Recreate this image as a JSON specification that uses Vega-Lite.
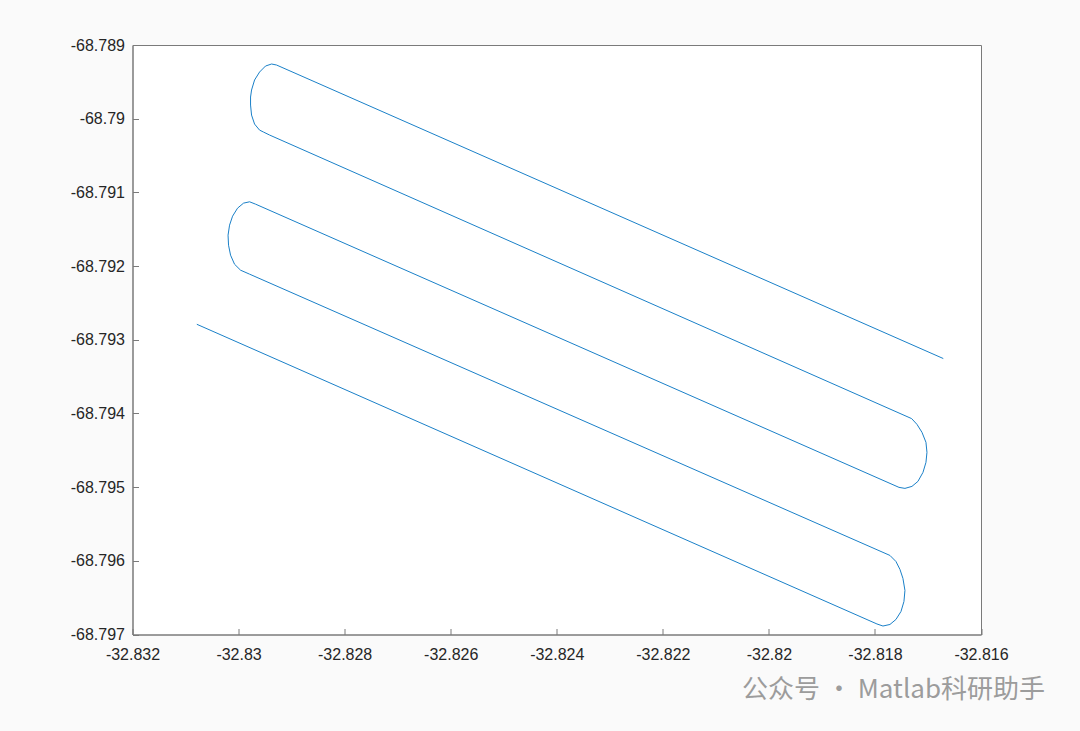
{
  "$schema": "https://vega.github.io/schema/vega-lite/v6.json",
  "width": 848.5,
  "height": 589.5,
  "autosize": {"type": "none"},
  "padding": {"left": 132.5, "top": 45, "right": 99, "bottom": 96.5},
  "background": "#fafafa",
  "view": {"fill": "white", "stroke": "#7a7a7a", "strokeWidth": 1},
  "title": {
    "text": "公众号 · Matlab科研助手",
    "orient": "bottom",
    "anchor": "end",
    "frame": "group",
    "dx": 64,
    "offset": 14,
    "font": "Noto Sans CJK SC",
    "fontSize": 26,
    "fontWeight": "normal",
    "color": "#9c9c9c"
  },
  "data": {
    "values": [
      {"i": 1, "x": -32.830787, "y": -68.792790},
      {"i": 2, "x": -32.817962, "y": -68.796857},
      {"i": 3, "x": -32.817849, "y": -68.796885},
      {"i": 4, "x": -32.817717, "y": -68.796864},
      {"i": 5, "x": -32.817604, "y": -68.796796},
      {"i": 6, "x": -32.817509, "y": -68.796688},
      {"i": 7, "x": -32.817453, "y": -68.796552},
      {"i": 8, "x": -32.817434, "y": -68.796402},
      {"i": 9, "x": -32.817472, "y": -68.796239},
      {"i": 10, "x": -32.817528, "y": -68.796117},
      {"i": 11, "x": -32.817604, "y": -68.796009},
      {"i": 12, "x": -32.817717, "y": -68.795927},
      {"i": 13, "x": -32.829792, "y": -68.792110},
      {"i": 14, "x": -32.829962, "y": -68.792056},
      {"i": 15, "x": -32.830076, "y": -68.791975},
      {"i": 16, "x": -32.830151, "y": -68.791852},
      {"i": 17, "x": -32.830189, "y": -68.791717},
      {"i": 18, "x": -32.830198, "y": -68.791581},
      {"i": 19, "x": -32.830170, "y": -68.791445},
      {"i": 20, "x": -32.830113, "y": -68.791323},
      {"i": 21, "x": -32.830019, "y": -68.791214},
      {"i": 22, "x": -32.829906, "y": -68.791146},
      {"i": 23, "x": -32.829792, "y": -68.791128},
      {"i": 24, "x": -32.829679, "y": -68.791160},
      {"i": 25, "x": -32.817547, "y": -68.795003},
      {"i": 26, "x": -32.817434, "y": -68.795017},
      {"i": 27, "x": -32.817302, "y": -68.794990},
      {"i": 28, "x": -32.817189, "y": -68.794922},
      {"i": 29, "x": -32.817094, "y": -68.794800},
      {"i": 30, "x": -32.817038, "y": -68.794664},
      {"i": 31, "x": -32.817019, "y": -68.794528},
      {"i": 32, "x": -32.817038, "y": -68.794392},
      {"i": 33, "x": -32.817113, "y": -68.794256},
      {"i": 34, "x": -32.817208, "y": -68.794148},
      {"i": 35, "x": -32.817308, "y": -68.794070},
      {"i": 36, "x": -32.829415, "y": -68.790222},
      {"i": 37, "x": -32.829528, "y": -68.790182},
      {"i": 38, "x": -32.829604, "y": -68.790155},
      {"i": 39, "x": -32.829698, "y": -68.790073},
      {"i": 40, "x": -32.829755, "y": -68.789951},
      {"i": 41, "x": -32.829774, "y": -68.789815},
      {"i": 42, "x": -32.829774, "y": -68.789706},
      {"i": 43, "x": -32.829755, "y": -68.789611},
      {"i": 44, "x": -32.829698, "y": -68.789475},
      {"i": 45, "x": -32.829604, "y": -68.789367},
      {"i": 46, "x": -32.829491, "y": -68.789285},
      {"i": 47, "x": -32.829377, "y": -68.789258},
      {"i": 48, "x": -32.829283, "y": -68.789272},
      {"i": 49, "x": -32.816711, "y": -68.793255}
    ]
  },
  "mark": {"type": "line", "color": "#1a80c8", "strokeWidth": 1, "interpolate": "linear"},
  "encoding": {
    "order": {"field": "i", "type": "quantitative"},
    "x": {
      "field": "x",
      "type": "quantitative",
      "scale": {"domain": [-32.832, -32.816], "nice": false, "zero": false},
      "axis": {
        "title": null,
        "grid": false,
        "values": [-32.832, -32.83, -32.828, -32.826, -32.824, -32.822, -32.82, -32.818, -32.816],
        "format": ".6~f",
        "labelExpr": "replace(datum.label, '\u2212', '-')",
        "labelFont": "Liberation Sans",
        "labelFontSize": 16,
        "labelColor": "#262626",
        "domainColor": "#7a7a7a",
        "tickColor": "#7a7a7a",
        "tickSize": -6,
        "labelPadding": 18,
        "labelFlush": false,
        "labelOverlap": false
      }
    },
    "y": {
      "field": "y",
      "type": "quantitative",
      "scale": {"domain": [-68.797, -68.789], "nice": false, "zero": false},
      "axis": {
        "title": null,
        "grid": false,
        "values": [-68.797, -68.796, -68.795, -68.794, -68.793, -68.792, -68.791, -68.79, -68.789],
        "format": ".6~f",
        "labelExpr": "replace(datum.label, '\u2212', '-')",
        "labelFont": "Liberation Sans",
        "labelFontSize": 16,
        "labelColor": "#262626",
        "domainColor": "#7a7a7a",
        "tickColor": "#7a7a7a",
        "tickSize": -6,
        "labelPadding": 14,
        "labelFlush": false,
        "labelOverlap": false
      }
    }
  }
}
